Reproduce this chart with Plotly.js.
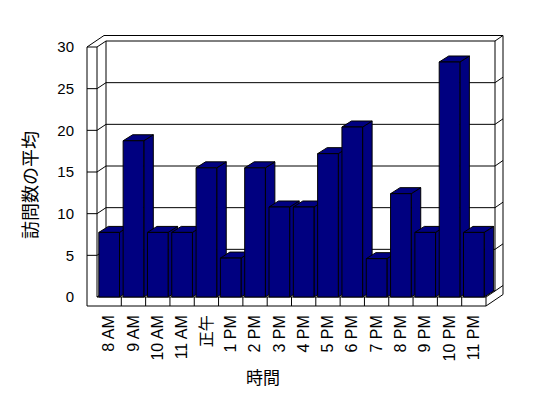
<!DOCTYPE html>
<html><head><meta charset="utf-8">
<script src="https://cdn.plot.ly/plotly-3.0.1.min.js"></script>
<style>body{margin:0;background:#fff}#chart{width:548px;height:398px}</style>
</head><body><div id="chart"></div>
<script>
// ---- data ----
const categories = ["8 AM","9 AM","10 AM","11 AM","正午","1 PM","2 PM","3 PM","4 PM","5 PM","6 PM","7 PM","8 PM","9 PM","10 PM","11 PM"];
const visits = [7.75,18.75,7.75,7.75,15.5,4.67,15.5,10.8,10.8,17.2,20.4,4.6,12.4,7.75,28.2,7.75];
const yTicks = [0,5,10,15,20,25,30];
const xTitle = "時間";
const yTitle = "訪問数の平均";

// ---- geometry (pixels) ----
const W = 548, H = 398;
const M = {l:85, r:43, t:34, b:90};
const pL = M.l, pR = W - M.r, pT = M.t, pB = H - M.b;
const frontLeft = 97, frontRight = 486;   // category -0.5 / n-0.5 on front plane
const zeroPy = 297, topPy = 47, vMax = 30;
const n = categories.length;
const ppc = (frontRight - frontLeft) / n;
const ppv = (zeroPy - topPy) / vMax;
const xRange = [-0.5 - (frontLeft - pL) / ppc, (n - 0.5) + (pR - frontRight) / ppc];
const yRange = [-(pB - zeroPy) / ppv, vMax + (topPy - pT) / ppv];
const paperX = px => (px - pL) / (pR - pL);
const paperY = py => (pB - py) / (pB - pT);

// depth offsets (data units)
const dx1 = 9 / ppc, dy1 = 6 / ppv;      // inner back wall
const dx2 = 17 / ppc, dy2 = 11.5 / ppv;  // outer back wall
const tw = 10 / ppc;                      // left wall thickness
const ft = 9 / ppv;                       // floor thickness
const bw = 0.85;                          // bar front width
const bdx = 9.5 / ppc, bdy = 6 / ppv;     // bar depth

const X0 = -0.5, X1 = n - 0.5;
const shapes = [];
const ln = (xa, ya, xb, yb) => shapes.push({type:'line', xref:'x', yref:'y', x0:xa, y0:ya, x1:xb, y1:yb, layer:'below', line:{color:'#000', width:1}});

// back wall inner frame + gridlines
for (const v of yTicks) {
  ln(X0 + dx1, v + dy1, X1 + dx1, v + dy1);
  ln(X0, v, X0 + dx1, v + dy1);
  if (v > 0) ln(X0 - tw, v, X0, v);
  ln(X1 + dx1, v + dy1, X1 + dx2, v + dy2);
}
ln(X0 + dx1, dy1, X0 + dx1, vMax + dy1);
ln(X1 + dx1, dy1, X1 + dx1, vMax + dy1);
// outer top & right
ln(X0 - tw, vMax, X0 - tw + dx2, vMax + dy2);
ln(X0 - tw + dx2, vMax + dy2, X1 + dx2, vMax + dy2);
ln(X1 + dx2, vMax + dy2, X1 + dx2, -ft + dy2);
// left wall front face
ln(X0 - tw, -ft, X0 - tw, vMax);
ln(X0, 0, X0, vMax);
// floor
ln(X0, 0, X1, 0);
ln(X0 - tw, -ft, X1, -ft);
ln(X1, -ft, X1, 0);
ln(X1, 0, X1 + dx1, dy1);
ln(X1, -ft, X1 + dx2, -ft + dy2);
for (let k = 1; k < n; k++) ln(X0 + k, -ft, X0 + k, 0);

// bar sides and tops (computed from data)
const navy = '#000080';
visits.forEach((v, i) => {
  const a = i - bw / 2, b = i + bw / 2;
  shapes.push({type:'path', xref:'x', yref:'y', layer:'below', fillcolor:navy, line:{color:'#000', width:1},
    path:`M${b},0 L${b + bdx},${bdy} L${b + bdx},${v + bdy} L${b},${v} Z`});
  shapes.push({type:'path', xref:'x', yref:'y', layer:'below', fillcolor:navy, line:{color:'#000', width:1},
    path:`M${a},${v} L${a + bdx},${v + bdy} L${b + bdx},${v + bdy} L${b},${v} Z`});
});

const yfont = {family:'"Liberation Sans", "Noto Sans CJK JP", sans-serif', size:15, color:'#000'};
const xfont = {family:'"Liberation Sans", "Noto Sans CJK JP", sans-serif', size:16, color:'#000'};
const cjk = {family:'"Noto Sans CJK JP", sans-serif', size:18, color:'#000'};

const data = [{
  type:'bar', x: categories.map((_, i) => i), y: visits, width: bw,
  marker:{color:navy, line:{color:'#000', width:1}}, hoverinfo:'skip'
}];

const layout = {
  width: W, height: H, margin: M, showlegend:false,
  paper_bgcolor:'#fff', plot_bgcolor:'rgba(0,0,0,0)',
  font: yfont,
  xaxis:{range:xRange, tickvals: categories.map((_, i) => i), ticktext: categories, tickangle:-90,
    showgrid:false, zeroline:false, showline:false, ticks:'', tickfont:xfont, ticklabelstandoff:3},
  yaxis:{range:yRange, tickvals:yTicks, showgrid:false, zeroline:false, showline:false, ticks:'',
    tickfont:yfont, ticklabelstandoff:10},
  annotations:[
    {text:xTitle, xref:'paper', yref:'paper', x:paperX(263), y:paperY(376), xanchor:'center', yanchor:'middle',
     showarrow:false, font:{...cjk, size:17}},
    {text:yTitle, xref:'paper', yref:'paper', x:paperX(29), y:paperY(185), xanchor:'center', yanchor:'middle',
     textangle:-90, showarrow:false, font:cjk}
  ],
  shapes: shapes
};
Plotly.newPlot('chart', data, layout, {staticPlot:true});
</script></body></html>
